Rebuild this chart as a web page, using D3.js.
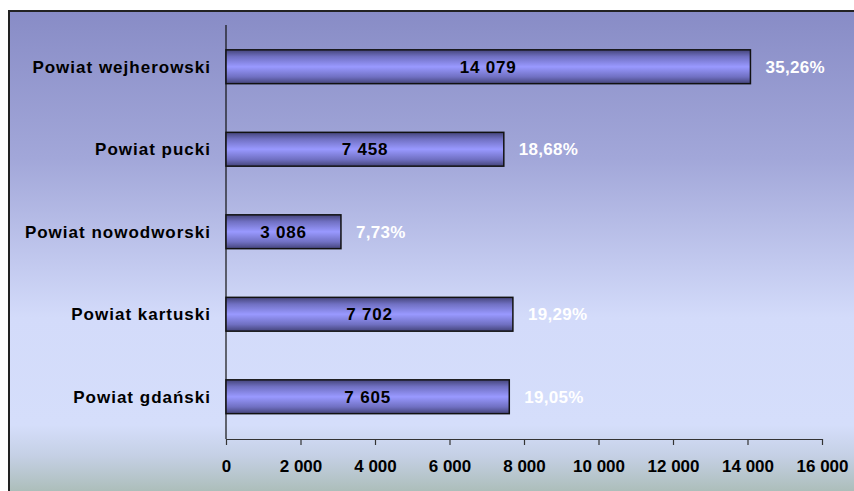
<!DOCTYPE html>
<html>
<head>
<meta charset="utf-8">
<script src="https://cdn.jsdelivr.net/npm/d3@7"></script>
<style>
  html, body { margin: 0; padding: 0; background: #ffffff; overflow: hidden; }
  svg { display: block; }
  text { font-family: "Liberation Sans", Arial, sans-serif; font-weight: bold; }
</style>
</head>
<body>
<script>
const categories = ["Powiat wejherowski", "Powiat pucki", "Powiat nowodworski", "Powiat kartuski", "Powiat gdański"];
const values = [14079, 7458, 3086, 7702, 7605];
const percentLabels = ["35,26%", "18,68%", "7,73%", "19,29%", "19,05%"];
const tickValues = [0, 2000, 4000, 6000, 8000, 10000, 12000, 14000, 16000];

const W = 854, H = 491;
const svg = d3.select("body").append("svg").attr("width", W).attr("height", H);
const defs = svg.append("defs");

const bg = defs.append("linearGradient").attr("id", "bgGrad")
  .attr("x1", 0).attr("y1", 0).attr("x2", 0).attr("y2", 1);
[[0, "#888cc6"], [0.29, "#a2a7d9"], [0.6, "#d3dbfa"], [0.81, "#d5defb"],
 [0.87, "#c5d0e5"], [0.935, "#aebfbd"], [1, "#8fac8c"]]
  .forEach(([o, c]) => bg.append("stop").attr("offset", o).attr("stop-color", c));

const barG = defs.append("linearGradient").attr("id", "barGrad")
  .attr("x1", 0).attr("y1", 0).attr("x2", 0).attr("y2", 1);
[[0, "#44447a"], [0.2, "#7070c2"], [0.5, "#9999ff"], [0.8, "#7070c2"], [1, "#44447a"]]
  .forEach(([o, c]) => barG.append("stop").attr("offset", o).attr("stop-color", c));

// plot frame (extends past right and bottom edges as in the reference)
svg.append("rect").attr("x", 9).attr("y", 11).attr("width", W + 20).attr("height", H + 20)
  .attr("fill", "url(#bgGrad)").attr("stroke", "#222").attr("stroke-width", 2);

const x = d3.scaleLinear().domain([0, 16000]).range([226, 822]);
const y = d3.scaleBand().domain(categories).range([25.5, 438]).paddingInner(0.59).paddingOuter(0.295);

const loc = d3.formatLocale({ decimal: ",", thousands: " ", grouping: [3], currency: ["", ""] });
const fmt = loc.format(",d");

// x axis
const xAxis = svg.append("g").attr("transform", "translate(0,439)")
  .call(d3.axisBottom(x).tickValues(tickValues).tickFormat(fmt).tickSize(6).tickSizeOuter(0));
xAxis.select(".domain").attr("stroke", "#333").attr("stroke-width", 1.2);
xAxis.selectAll(".tick line").attr("stroke", "#333").attr("stroke-width", 1.2);
xAxis.selectAll(".tick text").attr("y", 27).attr("dy", "0.35em")
  .attr("font-size", 17).attr("font-family", "Liberation Sans, Arial, sans-serif")
  .attr("font-weight", "bold").attr("fill", "#000");

// y axis line
svg.append("line").attr("x1", x(0)).attr("x2", x(0)).attr("y1", 25).attr("y2", 439)
  .attr("stroke", "#111").attr("stroke-width", 1.2);

// category labels
svg.selectAll("text.cat").data(categories).join("text").attr("class", "cat")
  .attr("x", 211).attr("y", d => y(d) + y.bandwidth() / 2).attr("dy", "0.35em")
  .attr("text-anchor", "end").attr("font-size", 17).attr("letter-spacing", 1)
  .attr("fill", "#000").text(d => d);

// bars
svg.selectAll("rect.bar").data(values).join("rect").attr("class", "bar")
  .attr("x", x(0)).attr("y", (d, i) => y(categories[i]))
  .attr("width", d => x(d) - x(0)).attr("height", y.bandwidth())
  .attr("fill", "url(#barGrad)").attr("stroke", "#111").attr("stroke-width", 1.5);

// value labels
svg.selectAll("text.val").data(values).join("text").attr("class", "val")
  .attr("x", d => (x(0) + x(d)) / 2).attr("y", (d, i) => y(categories[i]) + y.bandwidth() / 2)
  .attr("dy", "0.35em").attr("text-anchor", "middle").attr("font-size", 17).attr("letter-spacing", 0.8)
  .attr("fill", "#000").text(d => fmt(d));

// percent labels
svg.selectAll("text.pct").data(values).join("text").attr("class", "pct")
  .attr("x", d => x(d) + 15).attr("y", (d, i) => y(categories[i]) + y.bandwidth() / 2)
  .attr("dy", "0.35em").attr("text-anchor", "start").attr("font-size", 17).attr("letter-spacing", 0.3)
  .attr("fill", "#ffffff").text((d, i) => percentLabels[i]);
</script>
</body>
</html>
